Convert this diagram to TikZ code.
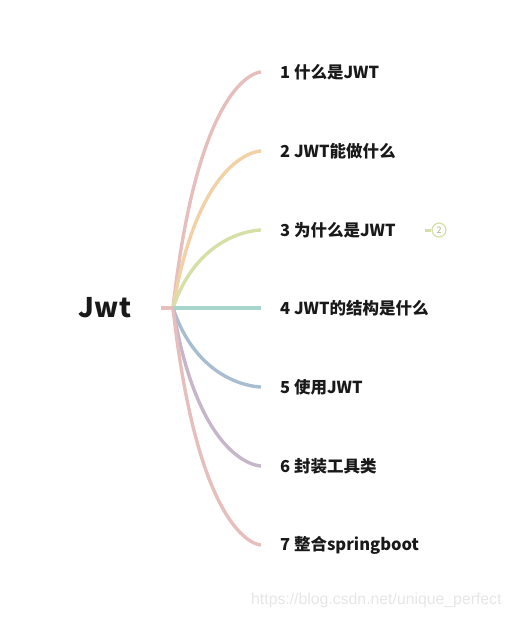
\documentclass[tikz,border=0pt]{standalone}
\usepackage{fontspec}
\setmainfont{Noto Sans CJK SC}
\newfontfamily\wmfont{Liberation Sans}
\usetikzlibrary{calc,positioning}
\definecolor{cpink}{HTML}{E6BFBC}
\definecolor{corange}{HTML}{F3D1A6}
\definecolor{cgreen}{HTML}{D6DFA8}
\definecolor{cteal}{HTML}{A7D5CC}
\definecolor{cblue}{HTML}{A9BDD1}
\definecolor{cpurple}{HTML}{C6B6C9}
\definecolor{cmark}{HTML}{E6E6E6}
\tikzset{rootlbl/.style={inner sep=0pt, font=\bfseries\fontsize{27}{30}\selectfont, text=black!90}}
\tikzset{topic/.style={anchor=west, inner sep=0pt, font=\bfseries\fontsize{16.5}{19}\selectfont, text=black!90}}
\tikzset{branch/.style={line width=3.4pt, line cap=butt}}
\tikzset{badge/.style={circle, draw=cgreen, line width=1.2pt, minimum size=14pt, inner sep=0pt, text=cgreen!80!black, font=\fontsize{9}{10}\selectfont}}

\begin{document}
\begin{tikzpicture}[x=1pt,y=-1pt]
    \useasboundingbox (0,0) rectangle (512,618);
    \node[rootlbl] (jwt) at (105,308) {Jwt};
    \coordinate (s) at (161,308);
    \coordinate (j) at (173,308);
    \node[topic] (t1) at (280,72) {1 什么是JWT};
    \node[topic] (t2) at (280,151) {2 JWT能做什么};
    \node[topic] (t3) at (280,230) {3 为什么是JWT};
    \node[topic] (t4) at (280,308) {4 JWT的结构是什么};
    \node[topic] (t5) at (280,387) {5 使用JWT};
    \node[topic] (t6) at (280,466) {6 封装工具类};
    \node[topic] (t7) at (280,545) {7 整合springboot};
    \coordinate (e1) at ($(t1.west)+(-19,0)$);
    \coordinate (e2) at ($(t2.west)+(-19,0)$);
    \coordinate (e3) at ($(t3.west)+(-19,0)$);
    \coordinate (e4) at ($(t4.west)+(-19,0)$);
    \coordinate (e5) at ($(t5.west)+(-19,0)$);
    \coordinate (e6) at ($(t6.west)+(-19,0)$);
    \coordinate (e7) at ($(t7.west)+(-19,0)$);
    \draw[branch, cpink] (j) .. controls ($(j |- e1)!0.3!(e1)$) and (e1) .. (e1);
    \draw[branch, corange] (j) .. controls ($(j |- e2)!0.3!(e2)$) and (e2) .. (e2);
    \draw[branch, cgreen] (j) .. controls ($(j |- e3)!0.3!(e3)$) and (e3) .. (e3);
    \draw[branch, cblue] (j) .. controls ($(j |- e5)!0.3!(e5)$) and (e5) .. (e5);
    \draw[branch, cpurple] (j) .. controls ($(j |- e6)!0.3!(e6)$) and (e6) .. (e6);
    \draw[branch, cpink] (j) .. controls ($(j |- e7)!0.3!(e7)$) and (e7) .. (e7);
    \draw[branch, cteal] (j) -- (e4);
    \draw[branch, cpink] (s) -- (j);
    % folded subtopics
    \node[badge] (n3) at (439,230) {2};
    \coordinate (b3) at (425,230);
    \draw[cgreen, line width=3pt] (b3) -- (n3.west);
    \node[anchor=west, inner sep=0pt, text=cmark, font=\wmfont\fontsize{15.8}{18}\selectfont] (wm) at (251,600) {https://blog.csdn.net/unique\_perfect};
\end{tikzpicture}
\end{document}
